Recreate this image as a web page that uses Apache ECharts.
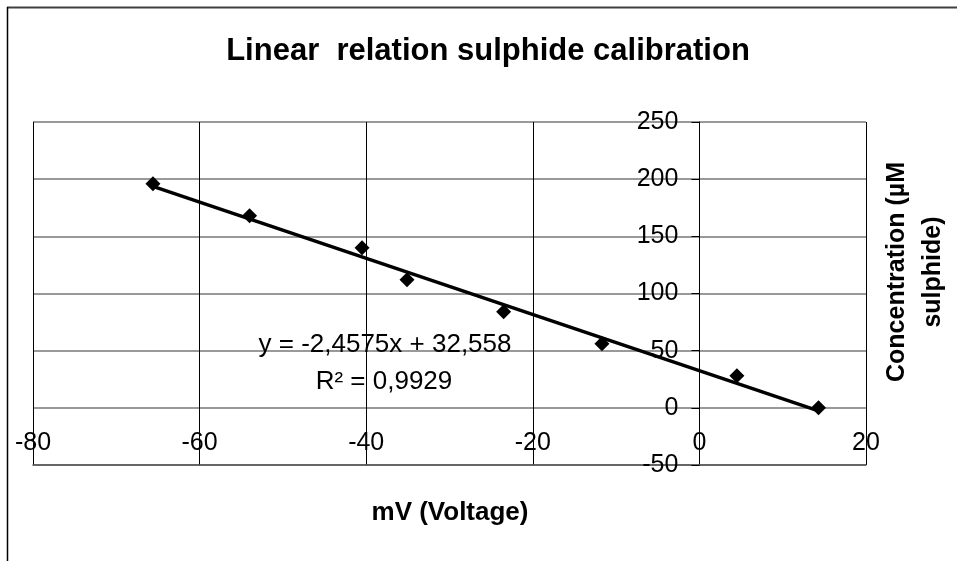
<!DOCTYPE html>
<html>
<head>
<meta charset="utf-8">
<script src="https://cdn.jsdelivr.net/npm/echarts@6/dist/echarts.min.js"></script>
<style>
  html, body { margin: 0; padding: 0; background: #fff; }
  #chart { width: 957px; height: 561px; }
</style>
</head>
<body>
<div id="chart"></div>
<script>
// readings: electrode potential (mV) vs sulphide concentration (µM)
var voltage = [-65.6, -54.0, -40.5, -35.1, -23.5, -11.7, 4.5, 14.3];
var concentration = [196, 168, 140, 112, 84, 56, 28, 0];

// linear trendline as printed on the chart
var slope = -2.4575;
var intercept = 32.558;
var trendX = [-65.6, 14.3];

var xTicks = { min: -80, max: 20, step: 20 };
var yTicks = { min: -50, max: 250, step: 50 };

var font = "'Liberation Sans', Arial, sans-serif";

var points = voltage.map(function (v, i) {
  return [v, concentration[i]];
});
var trend = trendX.map(function (x) {
  return [x, slope * x + intercept];
});

// grid box, and where x = 0 falls inside it (y axis crosses there)
var gridLeft = 33, gridRight = 91;
var plotW = 957 - gridLeft - gridRight;
var yAxisShift = plotW * (0 - xTicks.min) / (xTicks.max - xTicks.min);

var myChart = echarts.init(document.getElementById("chart"));
var option = {
  animation: false,
  backgroundColor: "#fff",
  grid: { left: gridLeft, right: gridRight, top: 122, bottom: 96, outerBoundsMode: "none", containLabel: false },
  xAxis: {
    type: "value",
    min: xTicks.min,
    max: xTicks.max,
    interval: xTicks.step,
    axisLine: { onZero: false, lineStyle: { color: "#555", width: 1.5 } },
    axisTick: { show: false },
    axisLabel: {
      inside: true,
      margin: 9,
      color: "#000",
      fontFamily: font,
      fontSize: 25,
    },
    splitLine: { show: true, lineStyle: { color: "#000", width: 1 } },
  },
  yAxis: {
    type: "value",
    min: yTicks.min,
    max: yTicks.max,
    interval: yTicks.step,
    position: "left",
    offset: -yAxisShift,
    axisLine: { show: true, onZero: false, lineStyle: { color: "#000", width: 1 } },
    axisTick: { show: true, length: 8, lineStyle: { color: "#000" } },
    axisLabel: {
      margin: 21,
      color: "#000",
      fontFamily: font,
      fontSize: 25,
    },
    splitLine: { show: true, lineStyle: { color: "#777", width: 1.5 } },
  },
  series: [
    {
      type: "line",
      data: trend,
      showSymbol: false,
      lineStyle: { color: "#000", width: 3.5 },
      z: 2,
    },
    {
      type: "scatter",
      data: points,
      symbol: "diamond",
      symbolSize: [15, 15],
      itemStyle: { color: "#000", opacity: 1 },
      z: 3,
    },
  ],
  graphic: [
    { type: "line", shape: { x1: 7, y1: 7.5, x2: 957, y2: 7.5 }, style: { stroke: "#404040", lineWidth: 2 } },
    { type: "line", shape: { x1: 7.5, y1: 7, x2: 7.5, y2: 561 }, style: { stroke: "#000", lineWidth: 1.5 } },
    {
      type: "text",
      x: 488,
      y: 51,
      style: {
        text: "Linear  relation sulphide calibration",
        font: "bold 31px " + font,
        fill: "#000",
        align: "center",
        verticalAlign: "middle",
      },
    },
    {
      type: "text",
      x: 385,
      y: 345,
      z: 10,
      style: {
        text: "y = -2,4575x + 32,558",
        font: "26px " + font,
        fill: "#000",
        align: "center",
        verticalAlign: "middle",
      },
    },
    {
      type: "text",
      x: 384,
      y: 382,
      z: 10,
      style: {
        text: "R² = 0,9929",
        font: "26px " + font,
        fill: "#000",
        align: "center",
        verticalAlign: "middle",
      },
    },
    {
      type: "text",
      x: 450,
      y: 513,
      style: {
        text: "mV (Voltage)",
        font: "bold 26px " + font,
        fill: "#000",
        align: "center",
        verticalAlign: "middle",
      },
    },
    {
      type: "text",
      x: 915,
      y: 272,
      rotation: Math.PI / 2,
      style: {
        text: "Concentration (µM\nsulphide)",
        font: "bold 25px " + font,
        lineHeight: 36,
        fill: "#000",
        align: "center",
        verticalAlign: "middle",
      },
    },
  ],
};

option && myChart.setOption(option);
</script>
</body>
</html>
